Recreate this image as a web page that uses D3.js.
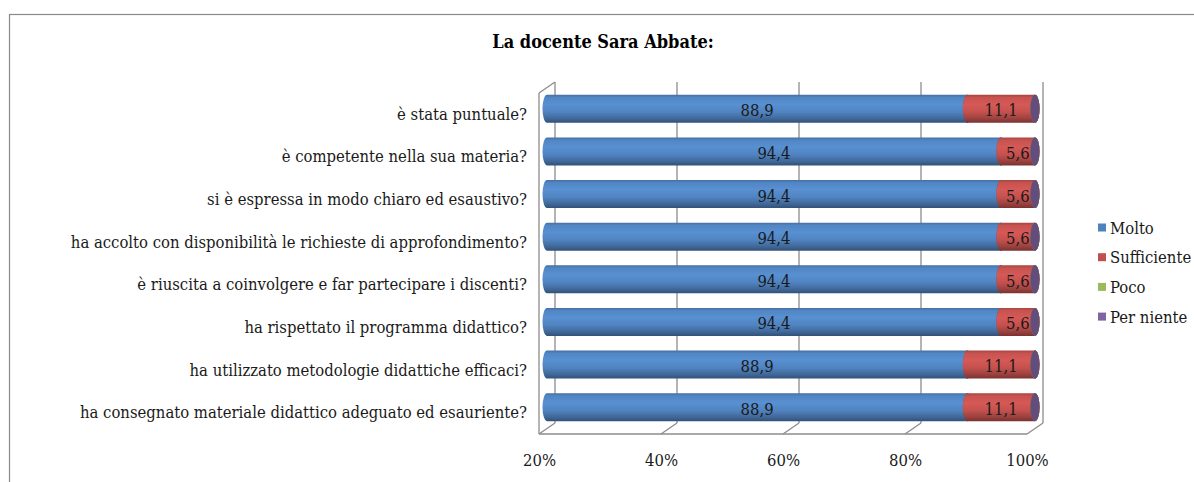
<!DOCTYPE html>
<html>
<head>
<meta charset="utf-8">
<script src="https://cdn.jsdelivr.net/npm/d3@7"></script>
<style>
  html, body { margin: 0; padding: 0; background: #fff; }
</style>
</head>
<body>
<svg id="chart" width="1194" height="482"></svg>
<script>
const chartTitle = "La docente Sara Abbate:";
const categories = [
  "è stata puntuale?",
  "è competente nella sua materia?",
  "si è espressa in modo chiaro ed esaustivo?",
  "ha accolto con disponibilità le richieste di approfondimento?",
  "è riuscita a coinvolgere e far partecipare i discenti?",
  "ha rispettato il programma didattico?",
  "ha utilizzato metodologie didattiche efficaci?",
  "ha consegnato materiale didattico adeguato ed esauriente?"
];
const molto       = [88.9, 94.4, 94.4, 94.4, 94.4, 94.4, 88.9, 88.9];
const sufficiente = [11.1, 5.6, 5.6, 5.6, 5.6, 5.6, 11.1, 11.1];
const poco        = [0, 0, 0, 0, 0, 0, 0, 0];
const perNiente   = [0, 0, 0, 0, 0, 0, 0, 0];
const seriesNames = ["Molto", "Sufficiente", "Poco", "Per niente"];
const seriesColors = ["#4f81bd", "#c0504d", "#9bbb59", "#8064a2"];
const tickValues = [20, 40, 60, 80, 100];
const tickLabels = ["20%", "40%", "60%", "80%", "100%"];

const seriesValues = [molto, sufficiente, poco, perNiente];
const table = categories.map((c, i) => {
  const row = { category: c };
  seriesNames.forEach((s, k) => row[s] = seriesValues[k][i]);
  return row;
});
const stacked = d3.stack().keys(seriesNames)(table);

const FONT = "'DejaVu Serif Condensed', 'DejaVu Serif', serif";
const svg = d3.select("#chart").attr("font-family", FONT);
const defs = svg.append("defs");

// layout
const depthX = 16, depthY = -11;
const frontTop = 93, frontBottom = 434;
const xMin = 20, xMax = 100;
const frontX = d3.scaleLinear().domain([xMin, xMax]).range([539, 1027]);
const backX = v => frontX(v) + depthX;
const midX = v => frontX(Math.max(xMin, Math.min(xMax, v))) + depthX / 2;
const y = d3.scaleBand().domain(categories).range([frontTop, frontBottom]).paddingInner(0.34).paddingOuter(0.17);
const barH = 28;
const rx = 4.5, ry = barH / 2;
const bandC = c => y(c) + y.bandwidth() / 2;
const barC = c => bandC(c) + depthY / 2;

// outer frame
svg.append("rect").attr("x", 9.5).attr("y", 14.5).attr("width", 1200).attr("height", 500)
  .attr("fill", "#fff").attr("stroke", "#8a8a8a").attr("stroke-width", 1.2);

// title
svg.append("text").attr("x", 603).attr("y", 48).attr("text-anchor", "middle")
  .attr("font-size", 18).attr("font-weight", "bold").attr("fill", "#000").text(chartTitle);

// walls and floor
const gridColor = "#8c8c8c";
const g = svg.append("g").attr("stroke", gridColor).attr("stroke-width", 1.3).attr("fill", "none");
tickValues.forEach(t => {
  g.append("line").attr("x1", backX(t)).attr("x2", backX(t))
    .attr("y1", frontTop + depthY).attr("y2", frontBottom + depthY);
  g.append("line").attr("x1", frontX(t)).attr("x2", backX(t))
    .attr("y1", frontBottom).attr("y2", frontBottom + depthY);
});
g.append("line").attr("x1", frontX(xMin)).attr("x2", frontX(xMax))
  .attr("y1", frontBottom).attr("y2", frontBottom);
g.append("line").attr("x1", frontX(xMin)).attr("x2", frontX(xMin))
  .attr("y1", frontTop).attr("y2", frontBottom);
g.append("line").attr("x1", frontX(xMin)).attr("x2", backX(xMin))
  .attr("y1", frontTop).attr("y2", frontTop + depthY);

// gradients
seriesColors.forEach((col, k) => {
  const grad = defs.append("linearGradient").attr("id", "grad" + k)
    .attr("x1", 0).attr("x2", 0).attr("y1", 0).attr("y2", 1);
  const stops = [
    [0, d3.color(col).darker(0.4)],
    [0.1, d3.color(col).brighter(0.1)],
    [0.35, d3.color(col).brighter(0.3)],
    [0.62, d3.color(col).brighter(0.05)],
    [0.85, d3.color(col).darker(0.6)],
    [1, d3.color(col).darker(1.3)]
  ];
  stops.forEach(s => grad.append("stop").attr("offset", s[0]).attr("stop-color", s[1].formatHex()));
});

// bars
const barsG = svg.append("g");
stacked.forEach((layer, k) => {
  layer.forEach((d, i) => {
    const c = categories[i];
    const cy = barC(c);
    const top = cy - ry, bot = cy + ry;
    const x0 = midX(d[0]), x1 = midX(d[1]);
    const val = d[1] - d[0];
    if (val > 0) {
      const p = `M${x0},${top} L${x1},${top} A${rx},${ry} 0 0 1 ${x1},${bot} L${x0},${bot} A${rx},${ry} 0 0 1 ${x0},${top} Z`;
      barsG.append("path").attr("d", p).attr("fill", `url(#grad${k})`);
    }
    barsG.append("ellipse").attr("cx", x1).attr("cy", cy).attr("rx", rx).attr("ry", ry)
      .attr("fill", d3.color(seriesColors[k]).darker(0.75).formatHex());
  });
});

// data labels
const labelsG = svg.append("g").attr("font-size", 16.5).attr("fill", "#1a1a1a").attr("text-anchor", "middle");
stacked.forEach((layer, k) => {
  layer.forEach((d, i) => {
    const val = d[1] - d[0];
    if (val <= 0) return;
    const x0 = midX(d[0]), x1 = midX(d[1]);
    labelsG.append("text").attr("x", (x0 + x1) / 2).attr("y", barC(categories[i]) + 2)
      .attr("dominant-baseline", "central")
      .text(d3.format(".1f")(val).replace(".", ","));
  });
});

// category labels
const catG = svg.append("g").attr("font-size", 16.5).attr("fill", "#1a1a1a").attr("text-anchor", "end");
categories.forEach(c => {
  catG.append("text").attr("x", 527).attr("y", bandC(c)).attr("dominant-baseline", "central").text(c);
});

// x axis
const axis = d3.axisBottom(frontX).tickValues(tickValues)
  .tickFormat((d, i) => tickLabels[i]).tickSize(0).tickPadding(0);
const axG = svg.append("g").attr("transform", `translate(0, ${frontBottom + 20})`).call(axis)
  .attr("font-family", FONT).attr("font-size", 16.5);
axG.select(".domain").remove();
axG.selectAll("text").attr("fill", "#1a1a1a").attr("dy", "0.71em");

// legend
const legG = svg.append("g").attr("font-size", 16.5).attr("fill", "#1a1a1a");
seriesNames.forEach((s, k) => {
  const ly = 228 + k * 29.7;
  legG.append("rect").attr("x", 1098).attr("y", ly - 4.5).attr("width", 8).attr("height", 8)
    .attr("fill", seriesColors[k]);
  legG.append("text").attr("x", 1110).attr("y", ly).attr("dominant-baseline", "central").text(s);
});
</script>
</body>
</html>
